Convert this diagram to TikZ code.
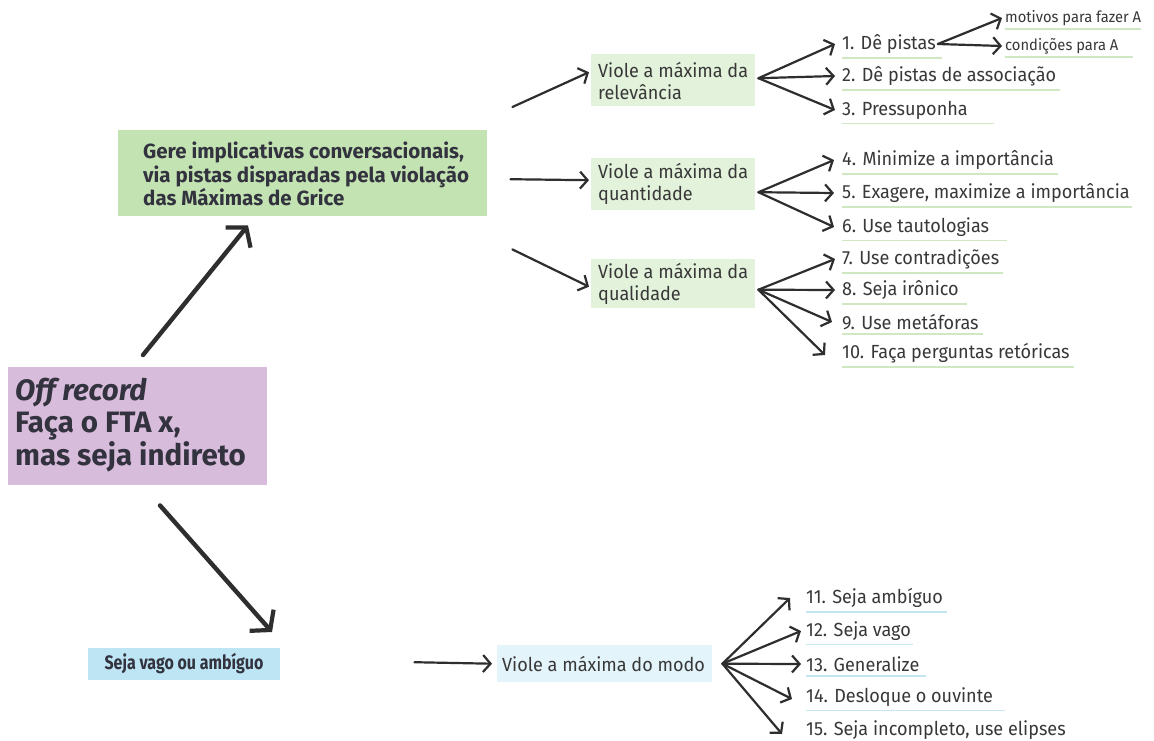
\documentclass[tikz,border=0pt]{standalone}
\usepackage{fontspec}
\setmainfont{Fira Sans}
\newfontfamily\itemf[FakeStretch=0.95]{Fira Sans}
\newfontfamily\boldf[FakeStretch=1.0]{Fira Sans}
\newfontfamily\condf[FakeStretch=0.82]{Fira Sans}
\usetikzlibrary{arrows.meta}
\definecolor{purplebg}{HTML}{D8BCDB}
\definecolor{greenbg}{HTML}{C3E3B2}
\definecolor{lgreenbg}{HTML}{E3F2DB}
\definecolor{bluebg}{HTML}{BEE5F3}
\definecolor{lbluebg}{HTML}{E3F4FB}
\definecolor{ink}{HTML}{383838}
\definecolor{darkink}{HTML}{33323F}
\definecolor{arrowc}{HTML}{2E2E2E}
\definecolor{ulgreen}{HTML}{CFE8C3}
\definecolor{ulblue}{HTML}{C4E6F3}
\tikzset{
  box/.style={anchor=north west, inner sep=0, draw=none},
  itemtxt/.style={anchor=west, inner sep=0, text=ink, font=\itemf\fontsize{19}{21}\selectfont},
  smalltxt/.style={anchor=west, inner sep=0, text=ink, font=\itemf\fontsize{15.5}{17}\selectfont},
  boxtxt/.style={anchor=west, inner sep=0, text=ink, align=left, font=\itemf\fontsize{19}{21.5}\selectfont},
  arr/.style={draw=arrowc, line width=2.2pt, line cap=round, -{Straight Barb[length=7.5pt,width=17pt,line width=2.2pt]}},
  bigarr/.style={draw=arrowc, line width=4.4pt, line cap=round, -{Straight Barb[length=13pt,width=32pt,line width=4.2pt]}},
  ulg/.style={draw=ulgreen, line width=1.6pt},
  ulb/.style={draw=ulblue, line width=1.6pt},
}
\begin{document}
\begin{tikzpicture}[x=1pt,y=-1pt]
\fill[white] (0,0) rectangle (1154,740);
\useasboundingbox (0,0) rectangle (1154,740);

% main boxes
\node[box, fill=purplebg, minimum width=259pt, minimum height=118pt] (off) at (8,367) {};
\node[anchor=west, inner sep=0, align=left, text=darkink, font=\boldf\bfseries\fontsize{29.5}{31.5}\selectfont] (offt) at (15,425) {\textit{Off record}\\Faça o FTA x,\\mas seja indireto};

\node[box, fill=greenbg, minimum width=369pt, minimum height=86pt] (gere) at (118,130) {};
\node[anchor=west, inner sep=0, align=left, text=darkink, font=\boldf\bfseries\fontsize{20.5}{23.5}\selectfont] (geret) at (143,174) {Gere implicativas conversacionais,\\via pistas disparadas pela violação\\das Máximas de Grice};

\node[box, fill=bluebg, minimum width=192pt, minimum height=32pt] (vago) at (88,648) {};
\node[inner sep=0, text=darkink, font=\condf\bfseries\fontsize{19.5}{21}\selectfont] (vagot) at (184,664) {Seja vago ou ambíguo};

% second level boxes
\node[box, fill=lgreenbg, minimum width=164pt, minimum height=52pt] (rel) at (591,54) {};
\node[boxtxt] (relt) at (598,81) {Viole a máxima da\\relevância};
\node[box, fill=lgreenbg, minimum width=164pt, minimum height=52pt] (qua) at (591,158) {};
\node[boxtxt] (quat) at (598,184) {Viole a máxima da\\quantidade};
\node[box, fill=lgreenbg, minimum width=164pt, minimum height=49pt] (qual) at (591,259) {};
\node[boxtxt] (qualt) at (598,284) {Viole a máxima da\\qualidade};
\node[box, fill=lbluebg, minimum width=215pt, minimum height=37pt] (modo) at (497,645) {};
\node[boxtxt] (modot) at (502,664) {Viole a máxima do modo};

% items
\node[itemtxt] (i1) at (842,44) {1. Dê pistas};
\node[itemtxt] (i2) at (842,76) {2. Dê pistas de associação};
\node[itemtxt] (i3) at (842,110) {3. Pressuponha};
\node[smalltxt] (m1) at (1005,18) {motivos para fazer A};
\node[smalltxt] (m2) at (1005,46) {condições para A};
\node[itemtxt] (i4) at (842,160) {4. Minimize a importância};
\node[itemtxt] (i5) at (842,193) {5. Exagere, maximize a importância};
\node[itemtxt] (i6) at (842,227) {6. Use tautologias};
\node[itemtxt] (i7) at (842,259) {7. Use contradições};
\node[itemtxt] (i8) at (842,290) {8. Seja irônico};
\node[itemtxt] (i9) at (842,322) {9. Use metáforas};
\node[itemtxt] (i10) at (842,353) {10. Faça perguntas retóricas};
\node[itemtxt] (i11) at (806,598) {11. Seja ambíguo};
\node[itemtxt] (i12) at (806,631) {12. Seja vago};
\node[itemtxt] (i13) at (806,664) {13. Generalize};
\node[itemtxt] (i14) at (806,697) {14. Desloque o ouvinte};
\node[itemtxt] (i15) at (806,730) {15. Seja incompleto, use elipses};

% underlines
\foreach \n/\e in {i1/6,i2/4,i3/26,i4/4,i5/2,i6/18,i7/4,i8/8,i9/4,i10/4}{
  \draw[ulg] ([yshift=-4pt]\n.south west) -- ([xshift=\e pt,yshift=-4pt]\n.south east);
}
\foreach \n/\e in {m1/0,m2/14}{
  \draw[ulg] ([yshift=-3pt]\n.south west) -- ([xshift=\e pt,yshift=-3pt]\n.south east);
}
\foreach \n/\e in {i11/4,i12/2,i13/6,i14/12,i15/10}{
  \draw[ulb] ([yshift=-4pt]\n.south west) -- ([xshift=\e pt,yshift=-4pt]\n.south east);
}

% big arrows
\draw[bigarr] ([xshift=135pt,yshift=12pt]off.north west) -- ([xshift=130pt,yshift=-9pt]gere.south west);
\draw[bigarr] ([xshift=152pt,yshift=-20pt]off.south west) -- ([xshift=184pt,yshift=16pt]vago.north west);

% level 1 arrows
\draw[arr] ([xshift=25pt,yshift=23pt]gere.north east) -- ([xshift=-2pt,yshift=8pt]rel.west);
\draw[arr] ([xshift=23pt,yshift=-6pt]gere.east) -- ([xshift=-2pt,yshift=4pt]qua.west);
\draw[arr] ([xshift=25pt,yshift=-33pt]gere.south east) -- ([xshift=-2pt,yshift=-3pt]qual.west);
\draw[arr] ([xshift=134pt,yshift=2pt]vago.east) -- ([xshift=-5pt]modo.west);

% fans
\coordinate (relo) at ([xshift=3pt,yshift=2pt]rel.east);
\foreach \n in {i1,i2,i3}{ \draw[arr] (relo) -- ([xshift=-7pt]\n.west); }
\foreach \n in {m1,m2}{ \draw[arr] ([xshift=2pt]i1.east) -- ([xshift=-3pt]\n.west); }
\coordinate (quao) at ([xshift=3pt,yshift=-8pt]qua.east);
\foreach \n in {i4,i5,i6}{ \draw[arr] (quao) -- ([xshift=-8pt]\n.west); }
\coordinate (qualo) at ([xshift=3pt,yshift=-6pt]qual.east);
\draw[arr] (qualo) -- ([xshift=-7pt]i7.west);
\draw[arr] (qualo) -- ([xshift=-7pt]i8.west);
\draw[arr] (qualo) -- ([xshift=-10pt]i9.west);
\draw[arr] (qualo) -- ([xshift=-17pt,yshift=-2pt]i10.west);
\coordinate (modoo) at ([xshift=10pt]modo.east);
\draw[arr] (modoo) -- ([xshift=-16pt]i11.west);
\draw[arr] (modoo) -- ([xshift=-5pt]i12.west);
\draw[arr] (modoo) -- ([xshift=-5pt]i13.west);
\draw[arr] (modoo) -- ([xshift=-14pt,yshift=-2pt]i14.west);
\draw[arr] (modoo) -- ([xshift=-24pt,yshift=-4pt]i15.west);
\end{tikzpicture}
\end{document}
